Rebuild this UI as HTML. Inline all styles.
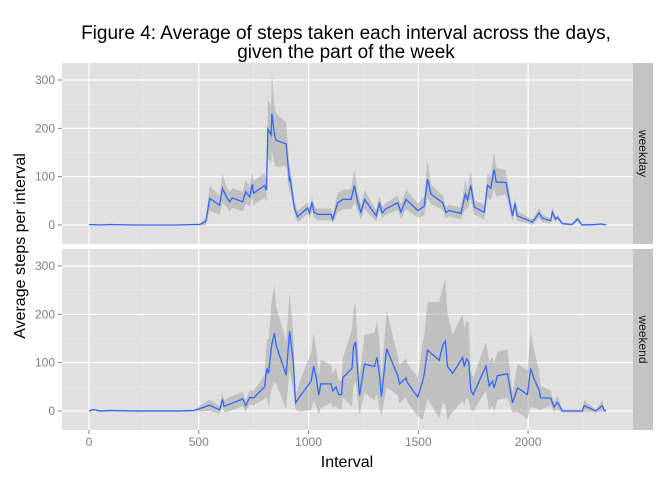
<!DOCTYPE html>
<html><head><meta charset="utf-8"><style>body{margin:0;background:#fff}svg{display:block;font-family:"Liberation Sans",Arial,sans-serif}</style></head>
<body>
<svg id="chart" width="672" height="480" viewBox="0 0 672 480">
<rect width="672" height="480" fill="#fff"/>
<text x="346" y="39" font-size="19" text-anchor="middle">Figure 4: Average of steps taken each interval across the days,</text>
<text x="346" y="58" font-size="19" text-anchor="middle">given the part of the week</text>
<text x="347" y="467" font-size="16" text-anchor="middle">Interval</text>
<text transform="translate(25,246) rotate(-90)" font-size="16" text-anchor="middle">Average steps per interval</text>
<g id="plots"></g>
</svg>
<script>
const topX=[0,50,100,200,300,400,480,505,532,550,595,608,626,641,653,700,714,732,744,750,800,808,815,830,833,845,853,898,914,915,936,950,995,1005,1016,1025,1041,1103,1110,1133,1156,1194,1209,1223,1239,1255,1308,1323,1336,1350,1406,1421,1444,1497,1527,1542,1558,1611,1626,1641,1694,1714,1724,1739,1755,1800,1815,1830,1845,1855,1899,1929,1941,1950,2005,2020,2050,2065,2103,2110,2125,2135,2156,2200,2224,2230,2245,2305,2335,2355];
const topY=[1,0,1,0,0,0,1,1,7,55,41,76,58,48,56,48,69,58,84,66,82,72,199,186,231,186,175,168,89,100,35,17,35,25,47,27,22,22,12,46,53,53,82,50,26,53,19,45,25,33,46,27,53,30,39,95,64,46,26,30,24,64,52,82,37,26,82,76,115,89,88,19,45,19,9,6,25,14,9,27,12,16,3,1,12,10,0,1,2,0];
const topSpread=[1,1,1,1,1,1,1,2,8,25,20,30,20,20,20,20,25,20,25,25,25,25,60,60,80,60,55,45,25,25,12,12,12,12,15,12,12,12,8,20,20,20,35,20,15,20,12,15,12,12,15,15,20,15,20,40,20,15,12,12,12,30,20,30,15,15,25,25,40,30,25,12,12,10,6,6,10,8,5,10,5,5,3,2,5,5,2,2,2,1];
const botX=[0,20,50,100,200,300,400,480,550,595,608,615,641,700,714,732,750,800,810,818,832,845,853,898,914,930,941,959,1012,1023,1035,1047,1056,1103,1110,1125,1137,1150,1156,1198,1205,1214,1232,1255,1300,1312,1323,1332,1356,1406,1415,1444,1450,1497,1520,1527,1542,1595,1611,1623,1633,1656,1702,1709,1720,1730,1739,1750,1808,1823,1838,1845,1860,1906,1929,1952,1997,2012,2027,2050,2057,2103,2118,2133,2156,2247,2255,2308,2338,2345,2355];
const botY=[0,3,0,1,0,0,0,1,12,2,24,10,14,25,11,28,27,50,88,78,136,161,136,74,165,103,17,29,62,93,69,33,56,56,42,50,34,34,69,88,132,143,32,97,92,111,76,30,129,73,56,69,59,29,62,76,126,105,136,145,92,78,111,92,108,101,43,34,93,52,62,48,73,77,17,48,34,88,67,43,27,27,8,18,0,0,11,0,11,2,0];
const botSpread=[2,2,2,2,2,2,2,2,12,8,15,12,15,15,12,15,15,25,60,70,90,100,80,70,80,60,15,30,60,70,60,40,50,40,35,40,30,30,40,80,80,80,40,60,70,75,70,40,80,40,40,40,40,40,80,80,100,120,120,130,110,80,90,80,80,80,40,35,50,50,50,50,50,50,20,50,50,80,60,40,25,15,10,15,3,3,12,3,12,3,2];

const NS='http://www.w3.org/2000/svg';
const X0=62,X1=633,Y0=-122.75,XR=2477.75;
const sx=v=>X0+(v-Y0)*(X1-X0)/(XR-Y0);
const PPU=0.4833;
const xTicks=[0,500,1000,1500,2000];
const xMinor=[-250,250,750,1250,1750,2250];
const yTicks=[0,100,200,300];
const yMinor=[50,150,250];
const panels=[{top:63,zero:225,x:topX,y:topY,s:topSpread,label:'weekday',key:'weekday'},{top:249,zero:411,x:botX,y:botY,s:botSpread,label:'weekend',key:'weekend'}];
const root=document.getElementById('plots');
function mk(tag,attrs,parent){const e=document.createElementNS(NS,tag);for(const k in attrs)e.setAttribute(k,attrs[k]);(parent||root).appendChild(e);return e;}
panels.forEach(p=>{
  const sy=v=>p.zero-v*PPU;
  const g=mk('g',{});
  
  
  const bg=mk('rect',{x:X0,y:p.top,width:X1-X0,height:181,fill:'#e0e0e0'},g);
  
  
  yMinor.forEach(v=>mk('line',{x1:X0,x2:X1,y1:sy(v),y2:sy(v),stroke:'#ebebeb','stroke-width':0.6},g));
  xMinor.forEach(v=>{if(sx(v)>X0)mk('line',{x1:sx(v),x2:sx(v),y1:p.top,y2:p.top+181,stroke:'#ebebeb','stroke-width':0.6},g);});
  yTicks.forEach(v=>mk('line',{x1:X0,x2:X1,y1:sy(v),y2:sy(v),stroke:'#fff','stroke-width':1.2},g));
  xTicks.forEach(v=>mk('line',{x1:sx(v),x2:sx(v),y1:p.top,y2:p.top+181,stroke:'#fff','stroke-width':1.2},g));
  let d='';
  p.x.forEach((v,i)=>{d+=(i?'L':'M')+sx(v).toFixed(1)+','+sy(p.y[i]+p.s[i]).toFixed(1);});
  for(let i=p.x.length-1;i>=0;i--)d+='L'+sx(p.x[i]).toFixed(1)+','+sy(p.y[i]-p.s[i]).toFixed(1);
  const rib=mk('path',{d:d+'Z',fill:'#999','fill-opacity':0.45,stroke:'none'},g);
  
  
  const pts=p.x.map((v,i)=>sx(v).toFixed(1)+','+sy(p.y[i]).toFixed(1)).join(' ');
  const ln=mk('polyline',{points:pts,fill:'none',stroke:'#3366FF','stroke-width':1.3},g);
  
  
  yTicks.forEach(v=>{
    mk('line',{x1:58,x2:62,y1:sy(v),y2:sy(v),stroke:'#7f7f7f','stroke-width':1},g);
    const t=mk('text',{x:55,y:sy(v)+4,'font-size':12,fill:'#7f7f7f','text-anchor':'end'},g);
    t.textContent=v;
    
    
  });
  const st=mk('rect',{x:X1,y:p.top,width:20,height:181,fill:'#c4c4c4'},g);
  
  
  const stt=mk('text',{transform:`translate(${X1+6},${p.top+90.5}) rotate(90)`,'font-size':12,'text-anchor':'middle',fill:'#1a1a1a'},g);
  stt.textContent=p.label;
  
  
});
xTicks.forEach(v=>{
  mk('line',{x1:sx(v),x2:sx(v),y1:430,y2:434,stroke:'#7f7f7f','stroke-width':1});
  const t=mk('text',{x:sx(v),y:446,'font-size':12,fill:'#7f7f7f','text-anchor':'middle'});
  t.textContent=v;
  
  
});
</script>
</body></html>
